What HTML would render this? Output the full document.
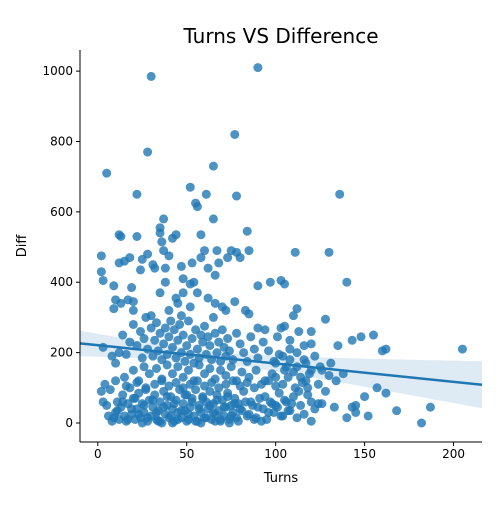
<!DOCTYPE html>
<html><head><meta charset="utf-8"><style>
body{margin:0;background:#fff;}
svg text{font-family:"DejaVu Sans","Liberation Sans",sans-serif;fill:#000;}
</style></head><body>
<svg id="chart" width="500" height="500" viewBox="0 0 500 500">
<rect width="500" height="500" fill="#fff"/>
<g id="band"></g><g id="pts"></g><g id="line"></g><g id="axes"></g>
</svg>
<script>
const xTicks=[0,50,100,150,200];
const yTicks=[0,200,400,600,800,1000];
const turns=[2,2,3,5,9,12,13,12,15,18,19,22,22,24,25,28,28,30,31,32,35,35,36,37,37,38,38,40,42,44,47,48,48,52,52,53,54,55,56,58,58,60,61,62,65,65,66,67,68,73,75,77,78,78,80,84,85,90,90,97,103,105,111,130,136,140,10,13,17,20,35,44,45,56,62,66,70,72,77,83,85,9,20,30,40,47,52,112,128,105,110,113,120,103,94,101,143,148,155,160,162,205,120,116,135,108,90,
145,150,152,157,162,168,182,187,140,143,145,133,128,130,125,118,120,124,
12,14,16,18,20,22,24,25,26,27,28,30,31,32,33,34,35,36,37,38,39,40,41,42,43,44,45,46,47,48,49,50,51,52,53,54,55,56,57,58,59,60,61,62,63,64,65,66,67,68,69,70,71,72,73,74,76,78,80,82,84,86,88,90,93,96,99,102,106,108,110,112,114,117,120,3,8,10,15,20,23,26,29,33,36,39,42,45,48,51,54,57,60,63,66,69,72,75,78,81,85,89,94,98,104,107,111,115,
2,3,5,7,9,10,11,12,13,14,15,16,17,18,19,20,21,22,23,24,25,26,27,28,29,30,31,32,33,34,35,36,37,38,39,40,41,42,43,44,45,46,47,48,49,50,51,52,53,54,55,56,57,58,59,60,61,62,63,64,65,66,67,68,69,70,71,72,73,74,75,76,77,78,79,80,82,84,86,88,90,92,94,96,98,100,102,104,106,108,110,112,114,116,118,120,122,124,126,
6,8,11,14,17,19,21,23,26,28,31,33,35,37,39,41,43,45,47,49,51,53,55,57,59,61,63,65,67,69,71,73,75,77,79,81,83,85,87,89,91,93,95,97,99,101,103,105,107,109,
4,10,16,22,27,32,36,40,44,48,52,56,60,64,68,72,76,80,84,88,92,96,100,25,34,42,50,58,66,74,
100,104,108,112,116,119,122,126,131,134,138,100,105,113,117];
const diffs=[475,430,405,710,390,535,530,455,460,470,385,530,650,435,465,480,770,985,450,440,555,540,515,580,490,440,400,475,525,535,445,410,370,670,395,455,400,625,615,535,470,490,650,440,580,730,420,490,455,470,490,820,645,485,470,545,490,1010,390,400,405,395,485,485,650,400,350,340,350,345,370,355,340,370,355,340,330,320,345,320,310,325,320,305,320,305,330,325,295,275,305,260,260,270,265,245,235,245,250,205,210,210,225,220,220,235,270,
50,75,20,100,85,35,0,45,15,45,30,45,90,135,160,80,60,55,
200,250,195,230,280,220,260,185,240,300,210,270,190,235,285,205,255,180,225,270,195,245,290,215,265,185,235,280,200,250,175,220,290,195,240,170,265,210,185,250,230,275,195,245,220,180,300,255,200,230,175,265,215,190,240,205,180,255,225,200,175,245,210,185,230,205,175,195,160,180,145,200,130,170,150,215,190,170,130,150,120,160,140,155,125,165,140,160,130,150,120,165,140,155,125,150,135,160,120,145,130,150,120,140,110,130,100,115,
90,60,50,95,15,30,60,10,45,80,20,5,55,100,25,70,10,40,85,15,55,30,95,5,65,20,45,80,10,35,60,0,90,25,50,15,75,40,5,65,30,95,15,55,35,80,10,45,70,20,95,5,50,30,75,15,60,40,90,10,55,25,80,35,5,65,20,45,85,10,50,30,70,15,55,40,90,20,60,10,45,5,75,30,55,50,85,20,60,35,75,15,50,25,100,5,40,110,55,
20,5,35,60,10,40,70,25,50,15,65,30,5,45,75,20,55,10,35,80,25,60,5,40,70,15,50,30,65,10,45,75,20,55,5,35,60,25,50,15,70,40,10,60,30,45,20,65,35,55,
110,120,105,115,100,110,120,105,115,100,110,120,105,115,100,110,120,105,115,100,110,120,105,0,5,0,5,0,5,0,
170,190,210,160,180,140,190,150,170,120,140,130,150,90,120];
const L=80,R=482,T=50,B=442,X0=-10,X1=216,Y0=-54,Y1=1060;
const sx=v=>L+(v-X0)/(X1-X0)*(R-L), sy=v=>B-(v-Y0)/(Y1-Y0)*(B-T);
const NS='http://www.w3.org/2000/svg';
function mk(t,a,p){const e=document.createElementNS(NS,t);for(const k in a)e.setAttribute(k,a[k]);p.appendChild(e);return e;}
const pts=document.getElementById('pts');
const n=Math.min(turns.length,diffs.length);
for(let i=0;i<n;i++){const c=mk('circle',{cx:sx(turns[i]),cy:sy(diffs[i]),r:4.5,fill:'#1f77b4','fill-opacity':0.8},pts);

}
let mx=0,my=0;for(let i=0;i<n;i++){mx+=turns[i];my+=diffs[i];}mx/=n;my/=n;
let sxx=0,sxy=0;for(let i=0;i<n;i++){sxx+=(turns[i]-mx)**2;sxy+=(turns[i]-mx)*(diffs[i]-my);}
const b=sxy/sxx,a=my-b*mx;let ss=0;for(let i=0;i<n;i++)ss+=(diffs[i]-a-b*turns[i])**2;
const s=Math.sqrt(ss/(n-2));
const lo=X0,hi=X1;let up=[],dn=[];
for(let k=0;k<=50;k++){const x=lo+(hi-lo)*k/50;const y=a+b*x;const h=1.96*s*Math.sqrt(1/n+(x-mx)**2/sxx);up.push(sx(x)+','+sy(y+h));dn.unshift(sx(x)+','+sy(y-h));}
const band=mk('polygon',{points:up.concat(dn).join(' '),fill:'#1f77b4','fill-opacity':0.15},document.getElementById('band'));


const ln=mk('line',{x1:sx(lo),y1:sy(a+b*lo),x2:sx(hi),y2:sy(a+b*hi),stroke:'#1f77b4','stroke-width':2.5},document.getElementById('line'));


const ax=document.getElementById('axes');
mk('line',{x1:L,y1:T,x2:L,y2:B,stroke:'#000','stroke-width':1},ax);
mk('line',{x1:L,y1:B,x2:R,y2:B,stroke:'#000','stroke-width':1},ax);
xTicks.forEach(v=>{const x=sx(v);mk('line',{x1:x,y1:B,x2:x,y2:B+4,stroke:'#000'},ax);
const t=mk('text',{x:x,y:B+16,'text-anchor':'middle','font-size':12},ax);t.textContent=v;

});
yTicks.forEach(v=>{const y=sy(v);mk('line',{x1:L-4,y1:y,x2:L,y2:y,stroke:'#000'},ax);
const t=mk('text',{x:L-7,y:y+4,'text-anchor':'end','font-size':12},ax);t.textContent=v;

});
</script>
<svg width="500" height="500" style="position:absolute;left:0;top:0">
<text x="281" y="43" text-anchor="middle" font-size="20">Turns VS Difference</text>
<text x="281" y="482" text-anchor="middle" font-size="13">Turns</text>
<text x="26" y="246" text-anchor="middle" font-size="13" transform="rotate(-90 26 246)">Diff</text>
</svg>
</body></html>
